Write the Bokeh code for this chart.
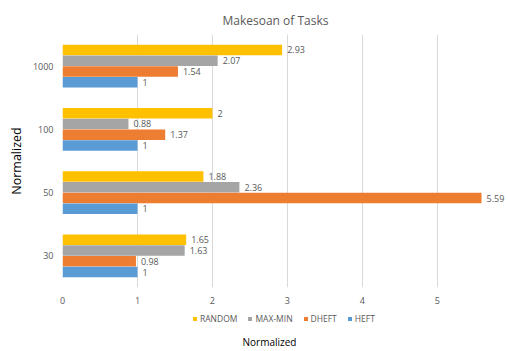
from bokeh.plotting import figure
from bokeh.layouts import column
from bokeh.models import ColumnDataSource, FactorRange, Range1d, Legend, LegendItem, FixedTicker, Label
from bokeh.transform import dodge
from bokeh.core.properties import value
from bokeh.embed import file_html
from bokeh.resources import INLINE

categories = ["30", "50", "100", "1000"]
random_vals = [1.65, 1.88, 2, 2.93]
maxmin_vals = [1.63, 2.36, 0.88, 2.07]
dheft_vals = [0.98, 5.59, 1.37, 1.54]
heft_vals = [1, 1, 1, 1]
x_ticks = [0, 1, 2, 3, 4, 5]

series = [
    ("RANDOM", random_vals, "#FFC000", 0.255),
    ("MAX-MIN", maxmin_vals, "#A5A5A5", 0.085),
    ("DHEFT", dheft_vals, "#ED7D31", -0.085),
    ("HEFT", heft_vals, "#5B9BD5", -0.255),
]

FONT = "Open Sans"
GREY = "#595959"

p = figure(width=508, height=308, output_backend="svg", toolbar_location=None,
           y_range=FactorRange(factors=categories, range_padding=0),
           x_range=Range1d(0, 5.95),
           min_border_left=62, min_border_right=0, min_border_top=34, min_border_bottom=21)

p.title.text = "Makesoan of Tasks"
p.title.align = "left"
p.title.text_font = FONT
p.title.text_font_size = "12px"
p.title.text_font_style = "normal"
p.title.text_color = GREY
p.title.offset = 160
p.title.standoff = 12

sources = []
for name, vals, color, off in series:
    src = ColumnDataSource(dict(cat=categories, v=vals, lab=[f"{v:g}" for v in vals]))
    sources.append(src)
    p.hbar(y=dodge("cat", off, range=p.y_range), right="v", left=0, height=0.165,
           source=src, fill_color=color, line_color=None)
    p.text(x="v", y=dodge("cat", off, range=p.y_range), text="lab", source=src,
           x_offset=5, text_baseline="middle", text_align="left",
           text_font=value(FONT), text_font_size="9px", text_color=GREY)

p.xaxis.ticker = FixedTicker(ticks=x_ticks)
for ax in (p.xaxis, p.yaxis):
    ax.axis_line_color = None
    ax.major_tick_line_color = None
    ax.minor_tick_line_color = None
    ax.major_tick_out = 0
    ax.major_tick_in = 0
    ax.minor_tick_out = 0
    ax.major_label_text_font = FONT
    ax.major_label_text_font_size = "9px"
    ax.major_label_text_color = GREY
p.xaxis.major_label_standoff = 9
p.yaxis.major_label_standoff = 9
p.yaxis.axis_label = "Normalized"
p.yaxis.axis_label_text_font = FONT
p.yaxis.axis_label_text_font_size = "12.5px"
p.yaxis.axis_label_text_font_style = "normal"
p.yaxis.axis_label_text_color = "#000000"
p.yaxis.axis_label_standoff = 5

p.ygrid.grid_line_color = None
p.xgrid.grid_line_color = "#D9D9D9"
p.outline_line_color = None

# bottom strip: legend + x-axis title
q = figure(width=508, height=43, output_backend="svg", toolbar_location=None,
           x_axis_type=None, y_axis_type=None, x_range=Range1d(0, 6),
           y_range=FactorRange(factors=categories),
           min_border_left=0, min_border_right=0, min_border_top=0, min_border_bottom=0)
q.outline_line_color = None
q.xgrid.grid_line_color = None
q.ygrid.grid_line_color = None

items = []
for (name, vals, color, off), src in zip(series, sources):
    r = q.hbar(y="cat", right="v", left=0, height=0.1, source=src,
               fill_color=color, line_color=None, visible=False)
    items.append(LegendItem(label=name, renderers=[r]))

legend = Legend(items=items, orientation="horizontal", location=(130, 27),
                glyph_width=5, glyph_height=5, label_standoff=3, spacing=10,
                label_text_font=FONT, label_text_font_size="8.5px", label_text_color=GREY,
                border_line_color=None, background_fill_alpha=0, padding=2, margin=0,
                click_policy="none")
q.add_layout(legend, "center")

xtitle = Label(x=207, y=10, x_units="screen", y_units="screen", text="Normalized",
               text_align="center", text_baseline="middle", text_font=FONT,
               text_font_size="10px", text_color="#000000")
q.add_layout(xtitle)

layout = column(p, q, spacing=0)
open("out.html", "w").write(file_html(layout, INLINE))
